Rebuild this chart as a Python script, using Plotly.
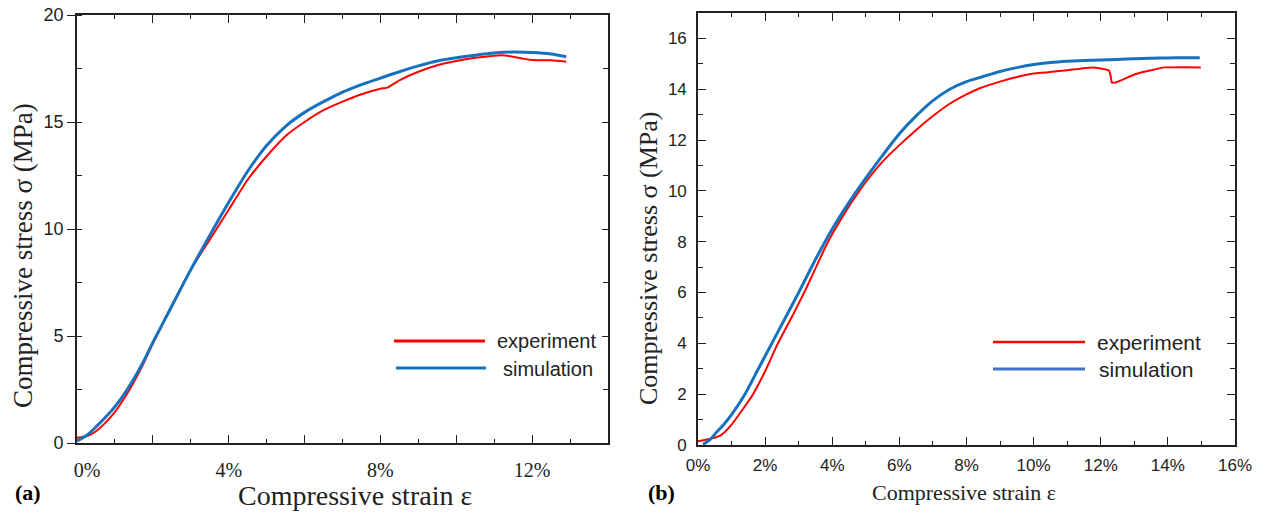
import plotly.graph_objects as go

# ---------------- data (strain in %, stress in MPa) ----------------
a_exp_strain = [0, 0.1, 0.3, 0.5, 0.75, 1.0, 1.25, 1.5, 1.75, 2.0, 2.5, 3.0, 3.5, 4.0, 4.5, 5.0,
                5.5, 6.0, 6.5, 7.0, 7.5, 8.0, 8.2, 8.5, 9.0, 9.5, 10.0, 10.5, 11.0, 11.2, 11.5,
                11.8, 12.0, 12.5, 12.9]
a_exp_stress = [0.25, 0.27, 0.35, 0.55, 0.95, 1.45, 2.1, 2.85, 3.7, 4.65, 6.4, 8.1, 9.5, 10.9, 12.3, 13.4,
                14.35, 15.0, 15.55, 15.95, 16.3, 16.55, 16.62, 16.95, 17.35, 17.65, 17.85, 18.0, 18.1, 18.12, 18.05,
                17.95, 17.9, 17.88, 17.82]

a_sim_strain = [0, 0.25, 0.5, 0.75, 1.0, 1.25, 1.5, 1.75, 2.0, 2.5, 3.0, 3.5, 4.0, 4.5, 5.0, 5.5,
                6.0, 6.5, 7.0, 7.5, 8.0, 8.5, 9.0, 9.5, 10.0, 10.5, 11.0, 11.5, 12.0, 12.5, 12.9]
a_sim_stress = [0.1, 0.35, 0.75, 1.2, 1.7, 2.3, 3.0, 3.8, 4.7, 6.4, 8.1, 9.7, 11.25, 12.7, 13.9, 14.8,
                15.45, 15.95, 16.4, 16.75, 17.05, 17.35, 17.62, 17.85, 18.0, 18.12, 18.22, 18.27, 18.25, 18.18, 18.05]

b_exp_strain = [0, 0.2, 0.45, 0.7, 0.95, 1.25, 1.64, 2.0, 2.38, 2.8, 3.2, 3.5, 3.8, 4.0, 4.5, 4.81,
                5.0, 5.5, 6.0, 6.5, 7.0, 7.5, 8.0, 8.38, 9.0, 9.5, 10.0, 10.37, 11.0, 11.74, 12.0,
                12.24, 12.3, 12.33, 12.45, 13.04, 13.5, 13.9, 14.5, 14.98]
b_exp_stress = [0.15, 0.2, 0.27, 0.4, 0.72, 1.25, 2.0, 2.9, 4.0, 5.05, 6.1, 6.95, 7.8, 8.3, 9.4, 10.0,
                10.35, 11.15, 11.8, 12.4, 12.95, 13.43, 13.8, 14.03, 14.3, 14.48, 14.62, 14.66, 14.75, 14.86, 14.82,
                14.74, 14.5, 14.27, 14.27, 14.6, 14.75, 14.86, 14.87, 14.86]

b_sim_strain = [0.15, 0.35, 0.55, 0.75, 1.0, 1.4, 1.8, 2.2, 2.6, 3.0, 3.5, 4.0, 4.5, 5.0, 5.5, 6.0,
                6.5, 7.0, 7.5, 8.0, 8.5, 9.0, 9.5, 10.0, 10.5, 11.0, 11.5, 12.0, 12.5, 13.0, 13.5,
                14.0, 14.5, 14.95]
b_sim_stress = [0.02, 0.2, 0.5, 0.78, 1.2, 2.0, 3.0, 4.0, 5.0, 6.0, 7.3, 8.5, 9.55, 10.5, 11.4, 12.25,
                12.95, 13.55, 14.0, 14.3, 14.5, 14.7, 14.85, 14.97, 15.05, 15.1, 15.13, 15.15, 15.17, 15.2, 15.22,
                15.23, 15.24, 15.24]

a_xtick_vals = [0, 2, 4, 6, 8, 10, 12, 14]
a_xtick_text = ["\u20030%", "", "4%", "", "8%", "", "12%", ""]
b_xtick_vals = [0, 2, 4, 6, 8, 10, 12, 14, 16]
b_xtick_text = ["0%", "2%", "4%", "6%", "8%", "10%", "12%", "14%", "16%"]

series_names = ["experiment", "simulation"]
RED = "#ff0000"
BLUE = "#1672bd"

W, H = 1271, 518
def px(x):
    return x / W
def py(y):
    return 1 - y / H

SANS = "Liberation Sans, Arial, sans-serif"
SERIF = "Liberation Serif, Times New Roman, serif"
AX = "#222222"

fig = go.Figure()
fig.add_trace(go.Scatter(x=a_exp_strain, y=a_exp_stress, mode="lines", name=series_names[0],
                         line=dict(color=RED, width=2, shape="spline", smoothing=0.5),
                         xaxis="x", yaxis="y", showlegend=False))
fig.add_trace(go.Scatter(x=a_sim_strain, y=a_sim_stress, mode="lines", name=series_names[1],
                         line=dict(color=BLUE, width=3, shape="spline", smoothing=0.7),
                         xaxis="x", yaxis="y", showlegend=False))
fig.add_trace(go.Scatter(x=b_exp_strain, y=b_exp_stress, mode="lines", name=series_names[0],
                         line=dict(color=RED, width=2, shape="spline", smoothing=0.4),
                         xaxis="x2", yaxis="y2", showlegend=False))
fig.add_trace(go.Scatter(x=b_sim_strain, y=b_sim_stress, mode="lines", name=series_names[1],
                         line=dict(color=BLUE, width=3, shape="spline", smoothing=0.7),
                         xaxis="x2", yaxis="y2", showlegend=False))
# invisible helpers so that the mirrored frame axes (top / right) are drawn
for xa, ya in [("x3", "y"), ("x", "y3"), ("x4", "y2"), ("x2", "y4")]:
    fig.add_trace(go.Scatter(x=[None], y=[None], mode="lines", xaxis=xa, yaxis=ya,
                             showlegend=False, hoverinfo="skip"))

a_xdom = [px(77), px(608)]
a_ydom = [py(443), py(15)]
b_xdom = [px(698), px(1235)]
b_ydom = [py(445), py(13)]

common = dict(showline=True, linecolor=AX, linewidth=1.6, showgrid=False, zeroline=False,
              tickcolor=AX, tickwidth=1.4, automargin=False, ticklabeloverflow="allow")

fig.update_layout(
    width=W, height=H, margin=dict(l=0, r=0, t=0, b=0),
    plot_bgcolor="white", paper_bgcolor="white", showlegend=False,
    # panel (a)
    xaxis=dict(domain=a_xdom, anchor="y", range=[0, 14], tickmode="array",
               tickvals=a_xtick_vals, ticktext=a_xtick_text, ticks="inside", ticklen=8,
               minor=dict(dtick=1, ticks="inside", ticklen=4, tickcolor=AX, tickwidth=1.2),
               tickfont=dict(family=SERIF, size=20, color=AX), ticklabelstandoff=8, **common),
    yaxis=dict(domain=a_ydom, anchor="x", range=[0, 20], dtick=5, ticks="outside", ticklen=8,
               minor=dict(dtick=2.5, ticks="inside", ticklen=5, tickcolor=AX, tickwidth=1.2),
               tickfont=dict(family=SANS, size=18, color=AX), ticklabelstandoff=0, **common),
    xaxis3=dict(overlaying="x", anchor="y", side="top", range=[0, 14], dtick=2, ticks="inside",
                ticklen=8, showticklabels=False,
                minor=dict(dtick=1, ticks="inside", ticklen=4, tickcolor=AX, tickwidth=1.2), **common),
    yaxis3=dict(overlaying="y", anchor="x", side="right", range=[0, 20], dtick=5, ticks="inside",
                ticklen=6, showticklabels=False,
                minor=dict(dtick=2.5, ticks="inside", ticklen=5, tickcolor=AX, tickwidth=1.2), **common),
    # panel (b)
    xaxis2=dict(domain=b_xdom, anchor="y2", range=[0, 16], tickmode="array",
                tickvals=b_xtick_vals, ticktext=b_xtick_text, ticks="inside", ticklen=8,
                minor=dict(dtick=1, ticks="inside", ticklen=4, tickcolor=AX, tickwidth=1.2),
                tickfont=dict(family=SANS, size=17, color=AX), ticklabelstandoff=4, **common),
    yaxis2=dict(domain=b_ydom, anchor="x2", range=[0, 17], dtick=2, ticks="inside", ticklen=8,
                minor=dict(dtick=1, ticks="inside", ticklen=5, tickcolor=AX, tickwidth=1.2),
                tickfont=dict(family=SANS, size=17, color=AX), ticklabelstandoff=6, **common),
    xaxis4=dict(overlaying="x2", anchor="y2", side="top", range=[0, 16], dtick=2, ticks="inside",
                ticklen=8, showticklabels=False,
                minor=dict(dtick=1, ticks="inside", ticklen=4, tickcolor=AX, tickwidth=1.2), **common),
    yaxis4=dict(overlaying="y2", anchor="x2", side="right", range=[0, 17], dtick=2, ticks="inside",
                ticklen=8, showticklabels=False,
                minor=dict(dtick=1, ticks="inside", ticklen=5, tickcolor=AX, tickwidth=1.2), **common),
)

# axis titles and panel labels
ann = [
    dict(x=px(355), y=py(495), text="Compressive strain \u03b5", font=dict(family=SERIF, size=28, color=AX)),
    dict(x=px(23), y=py(256), text="Compressive stress \u03c3 (MPa)", textangle=-90,
         font=dict(family=SERIF, size=27, color=AX)),
    dict(x=px(964), y=py(492), text="Compressive strain \u03b5", font=dict(family=SERIF, size=22, color=AX)),
    dict(x=px(648), y=py(258), text="Compressive stress \u03c3 (MPa)", textangle=-90,
         font=dict(family=SERIF, size=26, color=AX)),
    dict(x=px(28), y=py(492), text="<b>(a)</b>", font=dict(family=SERIF, size=22, color="black")),
    dict(x=px(661), y=py(492), text="<b>(b)</b>", font=dict(family=SERIF, size=22, color="black")),
    # legend labels
    dict(x=px(495), y=py(341), text=series_names[0], xanchor="left", font=dict(family=SANS, size=20, color=AX)),
    dict(x=px(501), y=py(369), text=series_names[1], xanchor="left", font=dict(family=SANS, size=20, color=AX)),
    dict(x=px(1095), y=py(342), text=series_names[0], xanchor="left", font=dict(family=SANS, size=21, color=AX)),
    dict(x=px(1097), y=py(369), text=series_names[1], xanchor="left", font=dict(family=SANS, size=21, color=AX)),
]
for a in ann:
    a.setdefault("xanchor", "center")
    fig.add_annotation(xref="paper", yref="paper", yanchor="middle", showarrow=False, **a)

# legend sample lines
for (x0, x1, y, c, w) in [(394, 485, 341, RED, 3), (396, 486, 368, BLUE, 3),
                          (993, 1085, 342, RED, 2.5), (993, 1085, 369, "#4472c4", 3)]:
    fig.add_shape(type="line", xref="paper", yref="paper", x0=px(x0), x1=px(x1), y0=py(y), y1=py(y),
                  line=dict(color=c, width=w))

fig.write_html("out.html", config={"displayModeBar": False},
               post_script="document.body.style.margin='0px';document.body.style.overflow='hidden';")
